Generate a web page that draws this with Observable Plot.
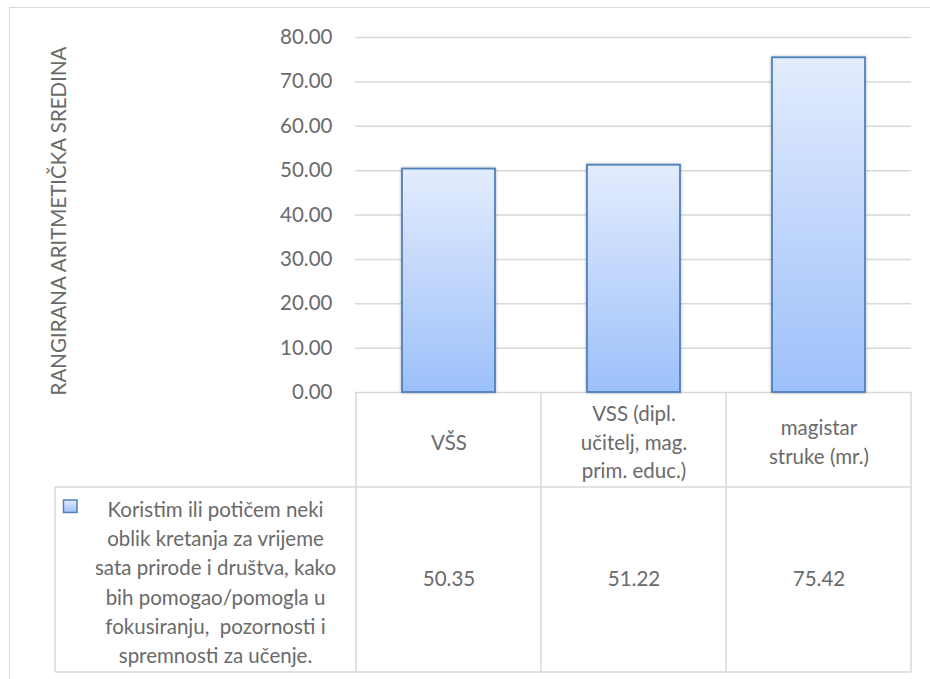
<!DOCTYPE html>
<html><head><meta charset="utf-8">
<script src="https://cdn.jsdelivr.net/npm/d3@7"></script>
<script src="https://cdn.jsdelivr.net/npm/@observablehq/plot@0.6"></script>
<style>
body{margin:0;background:#fff;overflow:hidden;width:930px;height:679px;position:relative;font-family:Lato,sans-serif}
#frame{position:absolute;left:9px;top:7px;width:1200px;height:1200px;border:1.5px solid #d9d9d9;box-sizing:border-box}
#chart{position:absolute;left:0;top:0}
g[aria-label="bar"] rect{filter:drop-shadow(0px 0px 1.5px rgba(0,0,0,0.3))}
</style></head><body>
<div id="frame"></div><div id="chart"></div>
<script>
const categories = ["VŠS", "VSS (dipl. učitelj, mag. prim. educ.)", "magistar struke (mr.)"];
const headerLines = ["VŠS", "VSS (dipl.\nučitelj, mag.\nprim. educ.)", "magistar\nstruke (mr.)"];
const values = [50.35, 51.22, 75.42];
const seriesName = "Koristim ili potičem neki\noblik kretanja za vrijeme\nsata prirode i društva, kako\nbih pomogao/pomogla u\nfokusiranju,  pozornosti i\nspremnosti za učenje.";
const yTicks = [0, 10, 20, 30, 40, 50, 60, 70, 80];
const yTitle = "RANGIRANA ARITMETIČKA SREDINA";

const fmt = d3.format(".2f");
const gridColor = "#d9d9d9";
const textColor = "#6a6a6a";

function tableMark(index, scales, vals, dim) {
  const x = scales.x;
  const step = x.step(), bw = x.bandwidth();
  const top = dim.height - dim.marginBottom;
  const headerBottom = top + 95;
  const bottom = top + 280;
  const right = dim.width - dim.marginRight;
  const legendLeft = 55;
  const g = d3.create("svg:g");
  const defs = g.append("defs");
  const grad = defs.append("linearGradient").attr("id", "barGrad")
    .attr("x1", 0).attr("y1", 0).attr("x2", 0).attr("y2", 1);
  grad.append("stop").attr("offset", "0%").attr("stop-color", "#e3ecfd");
  grad.append("stop").attr("offset", "100%").attr("stop-color", "#9dc0fa");
  const lines = g.append("g").attr("stroke", gridColor).attr("stroke-width", 1.5).attr("fill", "none");
  const edges = categories.map(c => x(c) + bw / 2 - step / 2);
  edges.push(x(categories[categories.length - 1]) + bw / 2 + step / 2);
  for (const e of edges) {
    lines.append("line").attr("x1", e).attr("x2", e).attr("y1", top).attr("y2", bottom);
  }
  lines.append("line").attr("x1", legendLeft).attr("x2", legendLeft).attr("y1", headerBottom).attr("y2", bottom);
  lines.append("line").attr("x1", legendLeft).attr("x2", right).attr("y1", headerBottom).attr("y2", headerBottom);
  lines.append("line").attr("x1", legendLeft).attr("x2", right).attr("y1", bottom).attr("y2", bottom);
  // legend key
  g.append("rect").attr("x", legendLeft + 8.5).attr("y", headerBottom + 13)
    .attr("width", 13.5).attr("height", 12.5)
    .attr("fill", "url(#barGrad)").attr("stroke", "#4f81bd").attr("stroke-width", 1.5);
  return g.node();
}

const chart = Plot.plot({
  width: 930,
  height: 679,
  marginTop: 37,
  marginBottom: 287,
  marginLeft: 355,
  marginRight: 19,
  style: {fontFamily: "Lato, sans-serif", fontSize: "20.5px", color: textColor, background: "transparent", overflow: "visible"},
  x: {domain: categories, paddingInner: 0.5, paddingOuter: 0.25, axis: null},
  y: {domain: [0, 80], ticks: 8, tickFormat: fmt, tickSize: 0, tickPadding: 23, label: null},
  marks: [
    Plot.ruleY(yTicks, {stroke: gridColor, strokeWidth: 1.5}),
    tableMark,
    Plot.barY(values, {x: (d, i) => categories[i], y: d => d, fill: "url(#barGrad)", stroke: "#4f81bd", strokeWidth: 1.8}),
    Plot.text(categories, {x: d => d, text: (d, i) => headerLines[i], frameAnchor: "bottom", lineAnchor: "middle", dy: 48, lineHeight: 1.4, fill: textColor}),
    Plot.text(values, {x: (d, i) => categories[i], text: d => fmt(d), frameAnchor: "bottom", lineAnchor: "middle", dy: 187, fill: textColor}),
    Plot.text([seriesName], {text: d => d, frameAnchor: "bottom-left", textAnchor: "middle", lineAnchor: "middle", dx: -140, dy: 188, lineHeight: 1.43, fill: textColor}),
    Plot.text([yTitle], {text: d => d, frameAnchor: "left", textAnchor: "middle", lineAnchor: "middle", rotate: -90, dx: -296, dy: 6, fill: textColor})
  ]
});
document.getElementById("chart").appendChild(chart);
</script></body></html>
